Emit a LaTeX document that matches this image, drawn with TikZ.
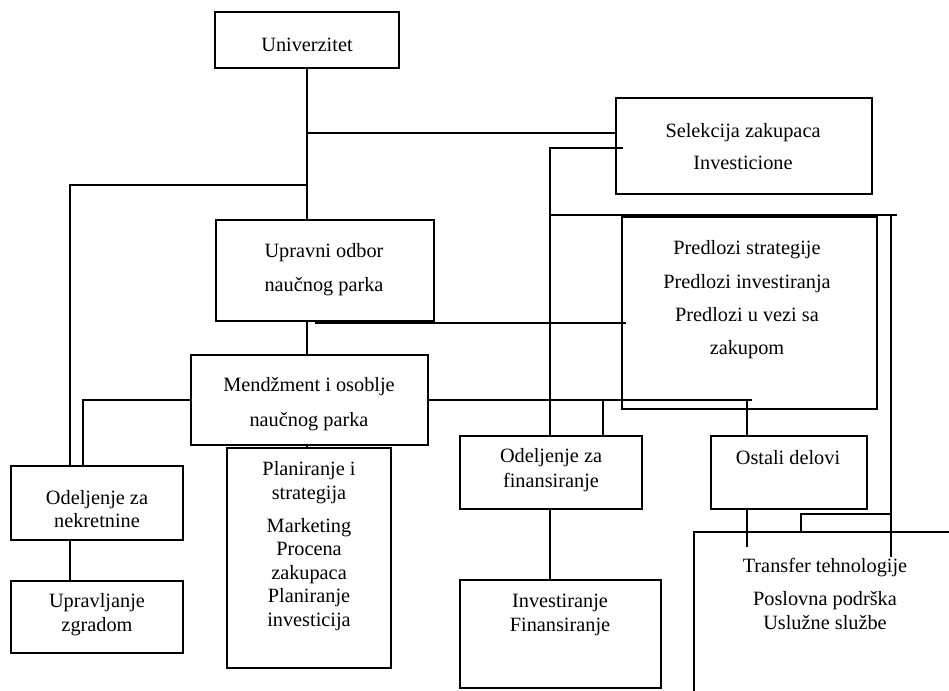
\documentclass[tikz,border=0pt]{standalone}
\usepackage{fontspec}
\setmainfont{Liberation Serif}

\begin{document}
\begin{tikzpicture}[x=0.5pt, y=-0.5pt, line width=1.15pt,
  main/.style = {draw, rectangle, inner sep=0pt, outer sep=0pt, anchor=north west},
  txt/.style = {align=center, inner sep=0pt, font=\fontsize{10.15}{#1}\selectfont},
  txt/.default = 12pt]
	\useasboundingbox (0,0) rectangle (949,691);
	\clip (0,0) rectangle (949,691);

	\node[main, minimum width=92pt, minimum height=28pt] (univ) at (215,12) {};
	\node[main, minimum width=109pt, minimum height=50.5pt] (odbor) at (216,220) {};
	\node[main, minimum width=128pt, minimum height=48pt] (selek) at (616,98) {};
	\node[main, minimum width=127.5pt, minimum height=96pt] (predl) at (622,217) {};
	\node[main, minimum width=118.5pt, minimum height=45pt] (mend) at (191,355) {};
	\node[main, minimum width=86pt, minimum height=37pt] (nekr) at (11,466) {};
	\node[main, minimum width=86pt, minimum height=36pt] (uprav) at (11,581) {};
	\node[main, minimum width=82pt, minimum height=110pt] (plan) at (227,448) {};
	\node[main, minimum width=91pt, minimum height=36.5pt] (fin) at (460,436) {};
	\node[main, minimum width=100.5pt, minimum height=54pt] (inv) at (460,580) {};
	\node[main, minimum width=78pt, minimum height=36.5pt] (ostali) at (711,436) {};
	\node[main, minimum width=200pt, minimum height=120pt] (trans) at (694,532) {};

	\node[txt] (univT) at (307,45) {Univerzitet};
	\node[txt=17pt] (odborT) at (324,270) {Upravni odbor\\ naučnog parka};
	\node[txt=16pt] (selekT) at (743,147) {Selekcija zakupaca\\ Investicione};
	\node[txt=16.65pt] (predlT) at (747,300) {Predlozi strategije\\ Predlozi investiranja\\ Predlozi u vezi sa\\ zakupom};
	\node[txt=17.5pt] (mendT) at (309,404.5) {Mendžment i osoblje\\ naučnog parka};
	\node[txt=11.5pt] (nekrT) at (97,509.5) {Odeljenje za\\ nekretnine};
	\node[txt] (upravT) at (97,615) {Upravljanje\\ zgradom};
	\node[txt=11.75pt] (planT) at (309,546) {Planiranje i\\ strategija\\[4.75pt] Marketing\\ Procena\\ zakupaca\\ Planiranje\\ investicija};
	\node[txt=12.5pt] (finT) at (551,470.5) {Odeljenje za\\ finansiranje};
	\node[txt] (invT) at (560,615) {Investiranje\\ Finansiranje};
	\node[txt] (ostaliT) at (788,458) {Ostali delovi};
	\node[txt] (transT) at (825,593.5) {Transfer tehnologije\\[4.5pt] Poslovna podrška\\ Uslužne službe};

	\coordinate (j1) at (307,133);
	\coordinate (j2) at (307,185);
	\coordinate (p1) at (315,323);
	\coordinate (s1) at (550,148);
	\coordinate (s2) at (550,215);
	\coordinate (r1) at (897,215);
	\coordinate (r2) at (891,215);
	\coordinate (r3) at (891,514);
	\coordinate (r4) at (891,557);
	\coordinate (m1) at (752,400);
	\coordinate (m2) at (603,400);
	\coordinate (m3) at (747,400);
	\coordinate (o1) at (747,547);

	\draw (univ.south) -- (univ.south |- odbor.north);
	\draw (j1) -- (j1 -| selek.west);
	\draw (j2) -| ([xshift=29.5pt]nekr.north west);
	\draw (univ.south |- odbor.south) -- (univ.south |- mend.north);
	\draw (univ.south |- mend.south) -- (univ.south |- plan.north);
	\draw (p1) -- ([xshift=2pt]predl.west |- p1);
	\draw ([xshift=3.5pt]selek.west |- s1) -- (s1) -- (s1 |- fin.north);
	\draw (s2) -- (r1);
	\draw (r2) -- (r4);
	\draw (r3) -| ([xshift=53.5pt]trans.north west);
	\draw (mend.west) -| ([xshift=36pt]nekr.north west);
	\draw (mend.east) -- (m1);
	\draw (m2) -- (m2 |- fin.north);
	\draw (m3) -- (m3 |- ostali.north);
	\draw ([xshift=29.5pt]nekr.south west) -- ([xshift=29.5pt]uprav.north west);
	\draw (s1 |- fin.south) -- (s1 |- inv.north);
	\draw (m3 |- ostali.south) -- (o1);
\end{tikzpicture}
\end{document}
